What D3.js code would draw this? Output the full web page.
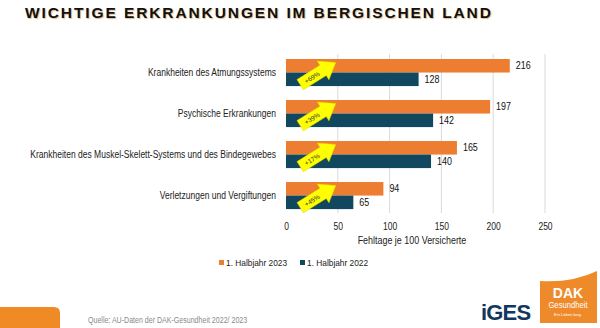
<!DOCTYPE html>
<html>
<head>
<meta charset="utf-8">
<script src="https://cdn.jsdelivr.net/npm/d3@7"></script>
<style>
  body { margin: 0; background: #fff; }
  svg { display: block; font-family: "Liberation Sans", Arial, sans-serif; }
</style>
</head>
<body>
<div id="chart"></div>
<script>
// Daten
var categories = [
  'Krankheiten des Atmungssystems',
  'Psychische Erkrankungen',
  'Krankheiten des Muskel-Skelett-Systems und des Bindegewebes',
  'Verletzungen und Vergiftungen'
]
var values2023 = [216, 197, 165, 94]
var values2022 = [128, 142, 140, 65]
var changes = ['+69%', '+39%', '+17%', '+45%']
var xTicks = [0, 50, 100, 150, 200, 250]
var seriesNames = ['1. Halbjahr 2023', '1. Halbjahr 2022']

var width = 600, height = 328
var orange = '#ED7D31', navy = '#11475F'

var svg = d3.select('#chart').append('svg')
  .attr('width', width)
  .attr('height', height)

// Titel
svg.append('text')
  .attr('x', 25).attr('y', 17.5)
  .attr('font-size', 15.5)
  .attr('font-weight', 'bold')
  .attr('letter-spacing', 1.9)
  .attr('fill', '#111')
  .style('text-shadow', '1px 1px 1px rgba(200,120,40,0.5)')
  .text('WICHTIGE ERKRANKUNGEN IM BERGISCHEN LAND')

var x = d3.scaleLinear().domain([0, 250]).range([286, 545])
var y = d3.scaleBand().domain(categories).range([54.9, 213.2]).paddingInner(0.34).paddingOuter(0.1)
var sub = d3.scaleBand().domain(['a', 'b']).range([0, y.bandwidth()])

// Gitterlinien
svg.append('g').selectAll('line')
  .data(xTicks.slice(1))
  .enter().append('line')
  .attr('x1', function(d) { return x(d) })
  .attr('x2', function(d) { return x(d) })
  .attr('y1', 54).attr('y2', 213)
  .attr('stroke', '#d9d9d9')
  .attr('stroke-width', 1)

// Achse
var axis = svg.append('g')
  .attr('transform', 'translate(0,214)')
  .call(d3.axisBottom(x).tickValues(xTicks).tickSize(0).tickPadding(9))
axis.select('.domain').remove()
axis.selectAll('text')
  .attr('class', 'narrow')
  .attr('font-size', 10)
  .attr('font-family', '"Liberation Sans", Arial, sans-serif')
  .attr('fill', '#222')

svg.append('text')
  .attr('class', 'narrow')
  .attr('x', 412).attr('y', 244)
  .attr('text-anchor', 'middle')
  .attr('font-size', 10.5)
  .attr('fill', '#222')
  .text('Fehltage je 100 Versicherte')

// Kategorien
svg.append('g').selectAll('text')
  .data(categories)
  .enter().append('text')
  .attr('class', 'narrow')
  .attr('x', 276)
  .attr('y', function(d) { return y(d) + y.bandwidth() / 2 + 3.5 })
  .attr('text-anchor', 'end')
  .attr('font-size', 10)
  .attr('fill', '#222')
  .text(function(d) { return d })

// Balken
var rows = svg.append('g').selectAll('g')
  .data(categories)
  .enter().append('g')
  .attr('transform', function(d) { return 'translate(0,' + y(d) + ')' })

rows.append('rect')
  .attr('x', x(0))
  .attr('y', sub('a'))
  .attr('width', function(d, i) { return x(values2023[i]) - x(0) })
  .attr('height', sub.bandwidth())
  .attr('fill', orange)

rows.append('rect')
  .attr('x', x(0))
  .attr('y', sub('b'))
  .attr('width', function(d, i) { return x(values2022[i]) - x(0) })
  .attr('height', sub.bandwidth())
  .attr('fill', navy)

rows.append('text')
  .attr('class', 'narrow')
  .attr('x', function(d, i) { return x(values2023[i]) + 6 })
  .attr('y', sub('a') + sub.bandwidth() / 2 + 3.5)
  .attr('font-size', 10.5)
  .attr('fill', '#111')
  .text(function(d, i) { return values2023[i] })

rows.append('text')
  .attr('class', 'narrow')
  .attr('x', function(d, i) { return x(values2022[i]) + 6 })
  .attr('y', sub('b') + sub.bandwidth() / 2 + 3.5)
  .attr('font-size', 10.5)
  .attr('fill', '#111')
  .text(function(d, i) { return values2022[i] })

// gelbe Pfeile
var arrows = rows.append('g')
  .attr('transform', 'translate(318,' + (sub.bandwidth() + 1) + ') rotate(-32)')

arrows.append('path')
  .attr('d', 'M-21,-6 L6,-6 L6,-11 L21,0 L6,11 L6,6 L-21,6 Z')
  .attr('fill', '#FFFF00')
  .attr('stroke', '#e6d800')
  .attr('stroke-width', 0.5)

arrows.append('text')
  .attr('x', -7).attr('y', 2.5)
  .attr('text-anchor', 'middle')
  .attr('font-size', 6.5)
  .attr('fill', '#333')
  .text(function(d, i) { return changes[i] })

// Legende
var legend = svg.append('g').selectAll('g')
  .data(seriesNames)
  .enter().append('g')
  .attr('transform', function(d, i) { return 'translate(' + (219 + i * 81) + ',266)' })

legend.append('rect')
  .attr('x', 0).attr('y', -6)
  .attr('width', 5).attr('height', 5)
  .attr('fill', function(d, i) { return i === 0 ? orange : navy })

legend.append('text')
  .attr('class', 'narrow')
  .attr('x', 7).attr('y', 0)
  .attr('font-size', 9.8)
  .attr('fill', '#222')
  .text(function(d) { return d })

// Fusszeile
svg.append('path')
  .attr('d', 'M0,307 L54,307 Q60,307 60,313 L60,328 L0,328 Z')
  .attr('fill', '#F08A24')

svg.append('text')
  .attr('class', 'narrow')
  .attr('x', 88).attr('y', 323)
  .attr('font-size', 8.3)
  .attr('fill', '#8a8a8a')
  .text('Quelle: AU-Daten der DAK-Gesundheit 2022/ 2023')

svg.append('text')
  .attr('x', 481).attr('y', 320)
  .attr('font-size', 22)
  .attr('font-weight', 'bold')
  .attr('letter-spacing', -0.8)
  .attr('fill', '#12365F')
  .text('iGES')

// DAK Logo
svg.append('path')
  .attr('d', 'M540,281 Q572,283 597,271 L597,323 L540,323 Z')
  .attr('fill', '#EE8A2A')
svg.append('text')
  .attr('x', 568).attr('y', 298)
  .attr('text-anchor', 'middle')
  .attr('font-size', 14)
  .attr('font-weight', 'bold')
  .attr('fill', '#fff')
  .text('DAK')
svg.append('text')
  .attr('class', 'narrow')
  .attr('x', 568).attr('y', 308)
  .attr('text-anchor', 'middle')
  .attr('font-size', 9)
  .attr('fill', '#fff')
  .text('Gesundheit')
svg.append('text')
  .attr('x', 568).attr('y', 316)
  .attr('text-anchor', 'middle')
  .attr('font-size', 4)
  .attr('fill', '#fff')
  .text('Ein Leben lang.')

// schmalere Schrift wie im Original
svg.selectAll('.narrow').each(function() {
  var w = this.getComputedTextLength()
  d3.select(this).attr('textLength', w * 0.85).attr('lengthAdjust', 'spacingAndGlyphs')
})
</script>
</body>
</html>
